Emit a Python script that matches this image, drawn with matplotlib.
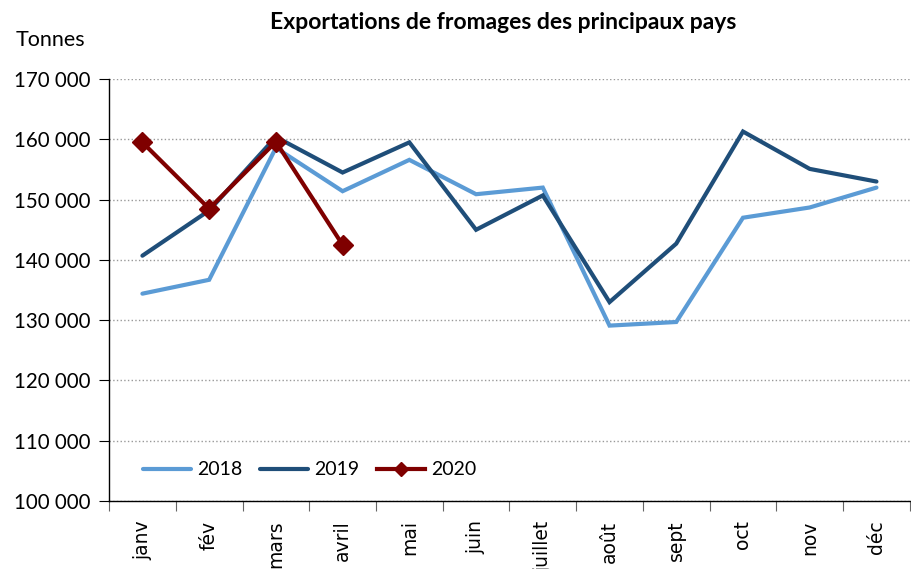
import matplotlib
matplotlib.use('Agg')
import matplotlib.pyplot as plt
from matplotlib.ticker import FuncFormatter, FixedLocator

# Data (tonnes)
months = ["janv", "fév", "mars", "avril", "mai", "juin", "juillet",
          "août", "sept", "oct", "nov", "déc"]
exports_2018 = [134400, 136700, 158600, 151400, 156600, 150900, 152000,
                129100, 129700, 147000, 148700, 152000]
exports_2019 = [140700, 148200, 160400, 154500, 159500, 145000, 150700,
                133000, 142700, 161300, 155100, 153000]
exports_2020 = [159500, 148500, 159600, 142500]

plt.rcParams['font.family'] = ['Lato', 'DejaVu Sans']

fig = plt.figure(figsize=(9.11, 5.69), dpi=100)
ax = fig.add_axes([0.1197, 0.1195, 0.879, 0.7415])

x = list(range(len(months)))
ax.plot(x, exports_2018, color='#5B9BD5', lw=3, label='2018',
        solid_capstyle='round', solid_joinstyle='miter')
ax.plot(x, exports_2019, color='#1F4E79', lw=3, label='2019',
        solid_capstyle='round', solid_joinstyle='miter')
ax.plot(x[:len(exports_2020)], exports_2020, color='#7F0000', lw=3,
        marker='D', markersize=10, label='2020', solid_joinstyle='miter')

ax.set_ylim(100000, 170000)
ax.set_xlim(-0.5, 11.5)
ax.set_yticks(range(100000, 170001, 10000))
ax.yaxis.set_major_formatter(FuncFormatter(lambda v, p: f"{int(v):,}".replace(",", " ")))
ax.tick_params(axis='y', labelsize=14.8, length=7, width=0.8, pad=6)

# month labels at centres, tick marks at category boundaries
# ("juillet" runs off the bottom edge, as in the reference)
ax.set_xticks(x)
ax.set_xticklabels(months, rotation=90, fontsize=13.5, family='DejaVu Sans')
ax.tick_params(axis='x', which='major', length=0, pad=14)
ax.xaxis.set_minor_locator(FixedLocator([i - 0.5 for i in range(13)]))
ax.tick_params(axis='x', which='minor', length=7, width=0.8, color='#666666')

ax.grid(axis='y', color='#999999', linestyle=':', linewidth=1)
ax.set_axisbelow(True)
for side in ['top', 'right']:
    ax.spines[side].set_visible(False)
ax.spines['left'].set_linewidth(1)
ax.spines['bottom'].set_linewidth(1)

ax.legend(loc='lower left', bbox_to_anchor=(0.02, 0.012), ncol=3, frameon=False,
          fontsize=14, handlelength=2.5, handletextpad=0.3, columnspacing=0.9,
          markerscale=0.75)

fig.text(0.552, 0.961, "Exportations de fromages des principaux pays",
         ha='center', va='center', fontsize=16.5, fontweight='bold')
fig.text(0.017, 0.93, "Tonnes", ha='left', va='center', fontsize=15.5)

fig.savefig('out.png', dpi=100)
